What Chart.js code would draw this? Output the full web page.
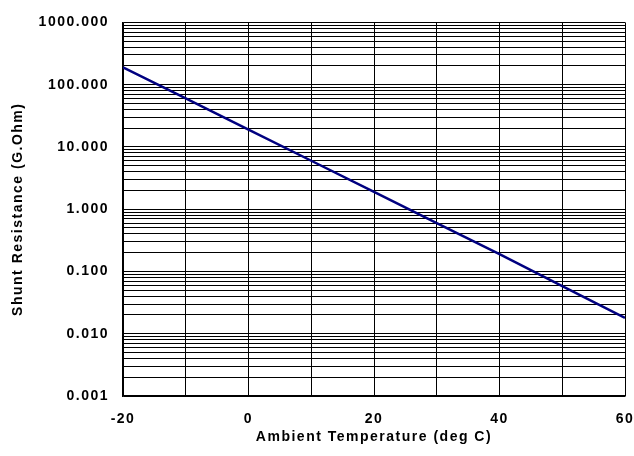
<!DOCTYPE html>
<html>
<head>
<meta charset="utf-8">
<script src="https://cdn.jsdelivr.net/npm/chart.js@4.4.1/dist/chart.umd.min.js"></script>
<style>
  html, body { margin: 0; padding: 0; background: #fff; }
  #wrap { width: 634px; height: 456px; }
</style>
</head>
<body>
<div id="wrap"><canvas id="c"></canvas></div>
<script>
// temperature (deg C) and shunt resistance (G.Ohm)
const temps = [-20, -10, 0, 10, 20, 30, 40, 50, 60];
const resistance = [190, 60, 19, 6, 1.9, 0.6, 0.19, 0.058, 0.018];

const xLabelTicks = [-20, 0, 20, 40, 60];
const yDecades = [0.001, 0.01, 0.1, 1, 10, 100, 1000];

// all 1..9 x 10^n grid lines
const yGrid = [];
yDecades.forEach((d, i) => {
    if (i === yDecades.length - 1) { yGrid.push(d); return; }
    for (let k = 1; k <= 9; k++) yGrid.push(+(k * d).toPrecision(3));
});

const font = { family: 'Liberation Sans, Arial, sans-serif', weight: 'bold', size: 14 };

// the original uses a slightly spaced-out bold face
const spacing = {
    id: 'spacing',
    beforeUpdate: chart => { chart.ctx.letterSpacing = '1.5px'; },
    beforeDraw: chart => { chart.ctx.letterSpacing = '1.5px'; }
};

new Chart(document.getElementById('c'), {
    type: 'line',
    data: {
        datasets: [{
            data: temps.map((t, i) => ({ x: t, y: resistance[i] })),
            borderColor: '#000080',
            borderWidth: 2.5,
            pointRadius: 0,
            tension: 0,
            fill: false
        }]
    },
    plugins: [spacing],
    options: {
        responsive: true,
        maintainAspectRatio: false,
        animation: false,
        layout: { padding: { top: 15, right: 9, left: 0, bottom: 0 } },
        plugins: { legend: { display: false }, tooltip: { enabled: false } },
        scales: {
            x: {
                type: 'linear',
                min: -20, max: 60,
                afterBuildTicks: axis => {
                    axis.ticks = temps.map(v => ({ value: v }));
                },
                afterFit: axis => {
                    axis.height = 60;
                    axis.paddingLeft = 0;
                    axis.paddingRight = 0;
                },
                ticks: {
                    color: '#000', font: font, padding: 15, maxRotation: 0,
                    autoSkip: false,
                    callback: v => xLabelTicks.includes(v) ? String(v) : ''
                },
                grid: { color: '#000', lineWidth: 1, drawTicks: false },
                border: { color: '#000', width: 1.5 },
                title: {
                    display: true, text: 'Ambient Temperature (deg C)',
                    color: '#000', font: font, padding: { top: 4, bottom: 10 }
                }
            },
            y: {
                type: 'logarithmic',
                min: 0.001, max: 1000,
                afterBuildTicks: axis => {
                    axis.ticks = yGrid.map(v => ({ value: v }));
                },
                afterFit: axis => { axis.width = 123; },
                ticks: {
                    color: '#000', font: font, padding: 14,
                    autoSkip: false,
                    callback: v => yDecades.includes(v) ? v.toFixed(3) : ''
                },
                grid: { color: '#000', lineWidth: 1, drawTicks: false },
                border: { color: '#000', width: 1.5 },
                title: {
                    display: true, text: 'Shunt Resistance (G.Ohm)',
                    color: '#000', font: font, padding: { top: 10, bottom: 4 }
                }
            }
        }
    }
});
</script>
</body>
</html>
